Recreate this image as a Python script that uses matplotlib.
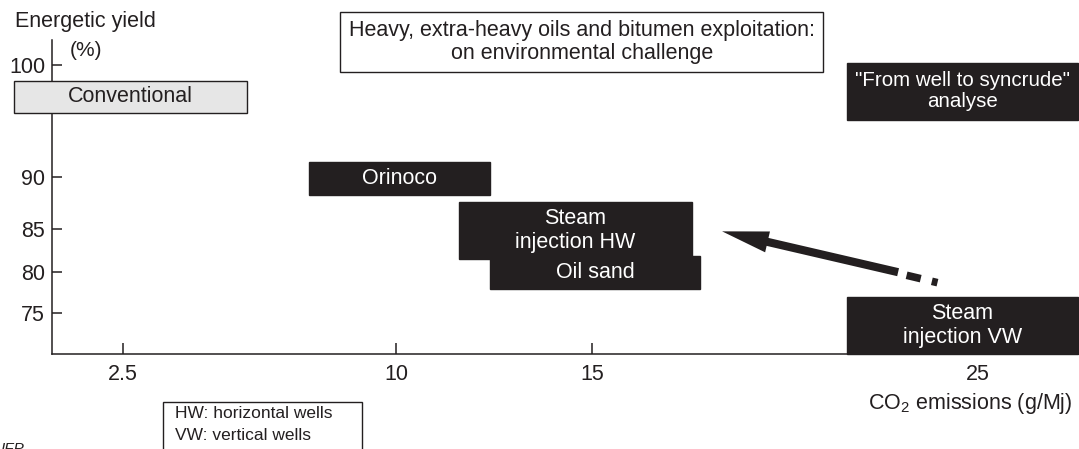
import matplotlib
matplotlib.use("Agg")
import matplotlib.pyplot as plt
import numpy as np
from matplotlib.patches import Rectangle, FancyArrowPatch

plt.rcParams['font.family'] = ['Liberation Sans', 'DejaVu Sans']
plt.rcParams['mathtext.fontset'] = 'custom'
plt.rcParams['mathtext.rm'] = 'Liberation Sans'
plt.rcParams['mathtext.it'] = 'Liberation Sans:italic'

INK = '#231f20'

# data (CO2 emissions g/Mj on x, energetic yield % on y)
labels = ['Conventional', 'Orinoco', 'Steam\ninjection HW', 'Oil sand',
          'Steam\ninjection VW', '"From well to syncrude"\nanalyse']
co2_lo = [-0.5, 7.6, 11.6, 12.4, 21.6, 21.6]
co2_hi = [5.9, 12.4, 17.6, 17.8, 27.6, 27.6]
yield_lo = [95.7, 88.3, 81.5, 77.9, 70.0, 95.1]
yield_hi = [98.6, 91.3, 87.6, 81.9, 77.0, 100.2]
fills = ['#e6e6e6', INK, INK, INK, INK, INK]
text_cols = [INK, 'white', 'white', 'white', 'white', 'white']
text_sizes = [15.5, 15.5, 15.5, 15.5, 15.5, 14.8]

x_ticks = [2.5, 10, 15, 25]
y_ticks = [75, 80, 85, 90, 100]

arrow_from = (23.0, 79.9)
arrow_to = (18.3, 84.8)
dash_x = [23.15, 23.95]
dash_y = [79.6, 78.7]

# the drawing is a schematic: axes are not evenly spaced, map them piecewise
xv = [-10, 2.5, 10, 15, 25, 40]
xp = [123 - 12.5 * 36.4, 123, 396, 592, 978, 978 + 15 * 38.6]
yv = [50, 75, 80, 85, 90, 100, 120]
yp = [-(313 + 25 * 8.2), -313, -272, -229, -177, -65, -(65 - 20 * 11.2)]


def fx(v):
    return np.interp(v, xv, xp)


def fx_inv(p):
    return np.interp(p, xp, xv)


def fy(v):
    return np.interp(v, yv, yp)


def fy_inv(p):
    return np.interp(p, yp, yv)


fig = plt.figure(figsize=(10.79, 4.49), dpi=100)
W, H = 1079, 449
ax = fig.add_axes([52 / W, (H - 354) / H, (W - 52) / W, (354 - 40) / H])
ax.set_xscale('function', functions=(fx, fx_inv))
ax.set_yscale('function', functions=(fy, fy_inv))
ax.set_xlim(fx_inv(52), fx_inv(1079))
ax.set_ylim(fy_inv(-354), fy_inv(-40))

for s in ['top', 'right']:
    ax.spines[s].set_visible(False)
for s in ['left', 'bottom']:
    ax.spines[s].set_color(INK)
    ax.spines[s].set_linewidth(1.1)

ax.set_xticks(x_ticks)
ax.set_xticklabels(['2.5', '10', '15', '25'])
ax.set_yticks(y_ticks)
ax.set_yticklabels([str(t) for t in y_ticks])
ax.tick_params(axis='both', direction='in', color=INK, labelcolor=INK,
               labelsize=15.5, width=1.1)
ax.tick_params(axis='x', length=8, pad=7)
ax.tick_params(axis='y', length=7, pad=5)
ax.minorticks_off()

bars = ax.barh(yield_lo, np.array(co2_hi) - np.array(co2_lo),
               height=np.array(yield_hi) - np.array(yield_lo), left=co2_lo,
               align='edge', color=fills, edgecolor=INK, linewidth=1.0, zorder=3)
for b, lab, tc, fs in zip(bars, labels, text_cols, text_sizes):
    b.set_clip_on(False)
    ax.annotate(lab, xy=(0.5, 0.5), xycoords=b, ha='center', va='center',
                color=tc, fontsize=fs, linespacing=1.15, zorder=4,
                annotation_clip=False)

arr = FancyArrowPatch(arrow_from, arrow_to,
                      arrowstyle='simple,head_length=2.4,head_width=1.1,tail_width=0.42',
                      mutation_scale=14, color=INK, lw=0, zorder=5)
ax.add_patch(arr)
ax.plot(dash_x, dash_y, color=INK, lw=5.5, dashes=(1.9, 1.5), solid_capstyle='butt',
        dash_capstyle='butt', zorder=5)

fig.text(85 / W, 1 - 22 / H, 'Energetic yield', ha='center', va='center',
         fontsize=15.5, color=INK)
fig.text(86 / W, 1 - 50 / H, '(%)', ha='center', va='center',
         fontsize=15, color=INK)
fig.text(1072 / W, 1 - 403 / H, 'CO$_2$ emissions (g/Mj)', ha='right',
         va='center', fontsize=15.5, color=INK)

# title box
fig.patches.append(Rectangle((340 / W, 1 - 72 / H), (823 - 340) / W, 60 / H,
                             transform=fig.transFigure, fill=False,
                             edgecolor=INK, lw=1.0))
fig.text(582 / W, 1 - 42 / H,
         'Heavy, extra-heavy oils and bitumen exploitation:\non environmental challenge',
         ha='center', va='center', fontsize=15.5, color=INK, linespacing=1.15)

# abbreviations box (cut at the bottom)
fig.patches.append(Rectangle((163 / W, -20 / H), (362 - 163) / W, (449 - 402 + 20) / H,
                             transform=fig.transFigure, fill=False,
                             edgecolor=INK, lw=1.0))
fig.text(175 / W, 1 - 413 / H, 'HW: horizontal wells', ha='left', va='center',
         fontsize=12.5, color=INK)
fig.text(175 / W, 1 - 435 / H, 'VW: vertical wells', ha='left', va='center',
         fontsize=12.5, color=INK)
fig.text(0.0, -4 / H, 'IFP', style='italic', ha='left', va='baseline',
         fontsize=11, color=INK)

fig.savefig('out.png', dpi=100)
